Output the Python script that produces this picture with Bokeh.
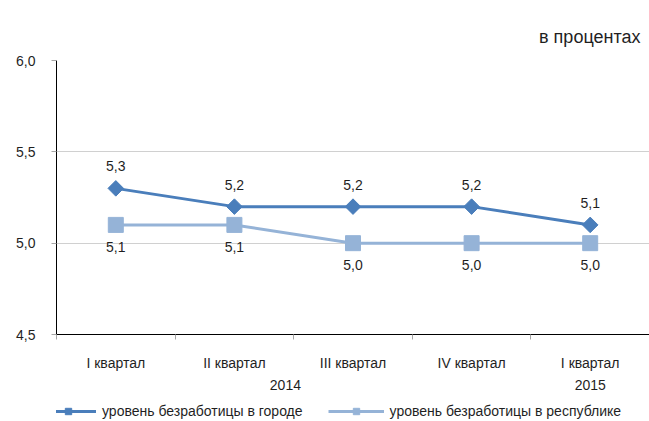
from bokeh.plotting import figure
from bokeh.layouts import column
from bokeh.models import (FixedTicker, LinearAxis, Range1d, Legend, LegendItem,
                          ColumnDataSource, CustomJSTickFormatter, Title, Grid)
from bokeh.core.properties import value
from bokeh.embed import file_html
from bokeh.resources import INLINE
import math

# ---- data ----
quarters = ["I квартал", "II квартал", "III квартал", "IV квартал", "I квартал"]
years = ["2014", "2015"]
year_pos = [1.43, 4.0]
city = [5.3, 5.2, 5.2, 5.2, 5.1]
republic = [5.1, 5.1, 5.0, 5.0, 5.0]
city_name = "уровень безработицы в городе"
rep_name = "уровень безработицы в республике"
y_ticks = [4.5, 5.0, 5.5, 6.0]

FONT = "Liberation Sans"
TXT = "#1f1f1f"
C_CITY = "#4A7EBB"
C_REP = "#95B3D7"

x = list(range(len(quarters)))
fmt = lambda v: f"{v:.1f}".replace(".", ",")
src_city = ColumnDataSource(dict(x=x, y=city, lab=[fmt(v) for v in city]))
src_rep = ColumnDataSource(dict(x=x, y=republic, lab=[fmt(v) for v in republic]))

p = figure(frame_width=593, frame_height=274, output_backend="svg", toolbar_location=None,
           x_range=Range1d(-0.5, len(quarters) - 0.5), y_range=Range1d(4.5, 6.0),
           min_border_left=56, min_border_right=0, min_border_top=60, min_border_bottom=66,
           x_axis_type=None, y_axis_type=None)
p.outline_line_color = None
p.background_fill_color = "white"
p.border_fill_color = "white"

# title
t = Title(text="в процентах", align="right", text_font=FONT, text_font_size="18px",
          text_font_style="normal", text_color=TXT, offset=9, standoff=27)
p.add_layout(t, "above")

# y axis
yax = LinearAxis(ticker=FixedTicker(ticks=y_ticks, minor_ticks=[]),
                 formatter=CustomJSTickFormatter(code="return tick.toFixed(1).replace('.', ',');"))
yax.axis_line_color = "black"
yax.axis_line_width = 1
yax.major_tick_line_color = "#a6a6a6"
yax.major_tick_out = 5
yax.major_tick_in = 0
yax.minor_tick_line_color = None
yax.major_label_standoff = 16
yax.major_label_text_font = FONT
yax.major_label_text_font_size = "14px"
yax.major_label_text_color = TXT
p.add_layout(yax, "left")

# x axis with quarters
xax = LinearAxis(ticker=FixedTicker(ticks=x, minor_ticks=[i - 0.5 for i in range(len(quarters) + 1)]))
xax.major_label_overrides = {i: q for i, q in enumerate(quarters)}
xax.axis_line_color = "black"
xax.major_tick_line_color = None
xax.minor_tick_line_color = "#a6a6a6"
xax.minor_tick_out = 5
xax.minor_tick_in = 0
xax.major_label_standoff = 14
xax.major_label_text_font = FONT
xax.major_label_text_font_size = "14px"
xax.major_label_text_color = TXT
p.add_layout(xax, "below")

# x axis with years
yrax = LinearAxis(ticker=FixedTicker(ticks=year_pos, minor_ticks=[]))
yrax.major_label_overrides = {pos: yv for pos, yv in zip(year_pos, years)}
yrax.axis_line_color = None
yrax.major_tick_line_color = None
yrax.minor_tick_line_color = None
yrax.major_label_standoff = 0
yrax.major_label_text_font = FONT
yrax.major_label_text_font_size = "14px"
yrax.major_label_text_color = TXT
p.add_layout(yrax, "below")

# grid lines
g = Grid(dimension=1, ticker=FixedTicker(ticks=y_ticks[1:]), grid_line_color="#d0d0d0")
p.add_layout(g)

# series
def draw(fig, src, color, marker_kw):
    ln = fig.line("x", "y", source=src, line_color=color, line_width=3)
    sc = fig.scatter("x", "y", source=src, fill_color=color, line_color=color,
                     line_width=1, **marker_kw)
    return ln, sc

city_marker = dict(marker="square", size=11, angle=math.pi / 4)
rep_marker = dict(marker="square", size=15)
draw(p, src_city, C_CITY, city_marker)
draw(p, src_rep, C_REP, rep_marker)

p.text("x", "y", text="lab", source=src_city, text_font=value(FONT), text_font_size="14px",
       text_color=TXT, text_align="center", text_baseline="middle", y_offset=-22)
p.text("x", "y", text="lab", source=src_rep, text_font=value(FONT), text_font_size="14px",
       text_color=TXT, text_align="center", text_baseline="middle", y_offset=22)

# legend in its own strip below the chart (series drawn out of view, used only for legend glyphs)
p2 = figure(width=649, height=21, output_backend="svg", toolbar_location=None,
            x_range=Range1d(100, 101), y_range=Range1d(100, 101),
            min_border_left=0, min_border_right=0, min_border_top=0, min_border_bottom=0,
            x_axis_type=None, y_axis_type=None)
p2.outline_line_color = None
p2.xgrid.visible = False
p2.ygrid.visible = False
lc, scc = draw(p2, src_city, C_CITY, city_marker)
lr, scr = draw(p2, src_rep, C_REP, rep_marker)

legend = Legend(items=[LegendItem(label=city_name, renderers=[lc, scc]),
                       LegendItem(label=rep_name, renderers=[lr, scr])],
                orientation="horizontal", location=(-16, 2),
                label_text_font=FONT, label_text_font_size="14px", label_text_color=TXT,
                glyph_width=56, glyph_height=16, label_standoff=6, spacing=25,
                padding=0, margin=0, border_line_color=None, background_fill_alpha=0)
p2.add_layout(legend, "center")

layout = column(p, p2, spacing=0)
open("out.html", "w").write(file_html(layout, INLINE))
